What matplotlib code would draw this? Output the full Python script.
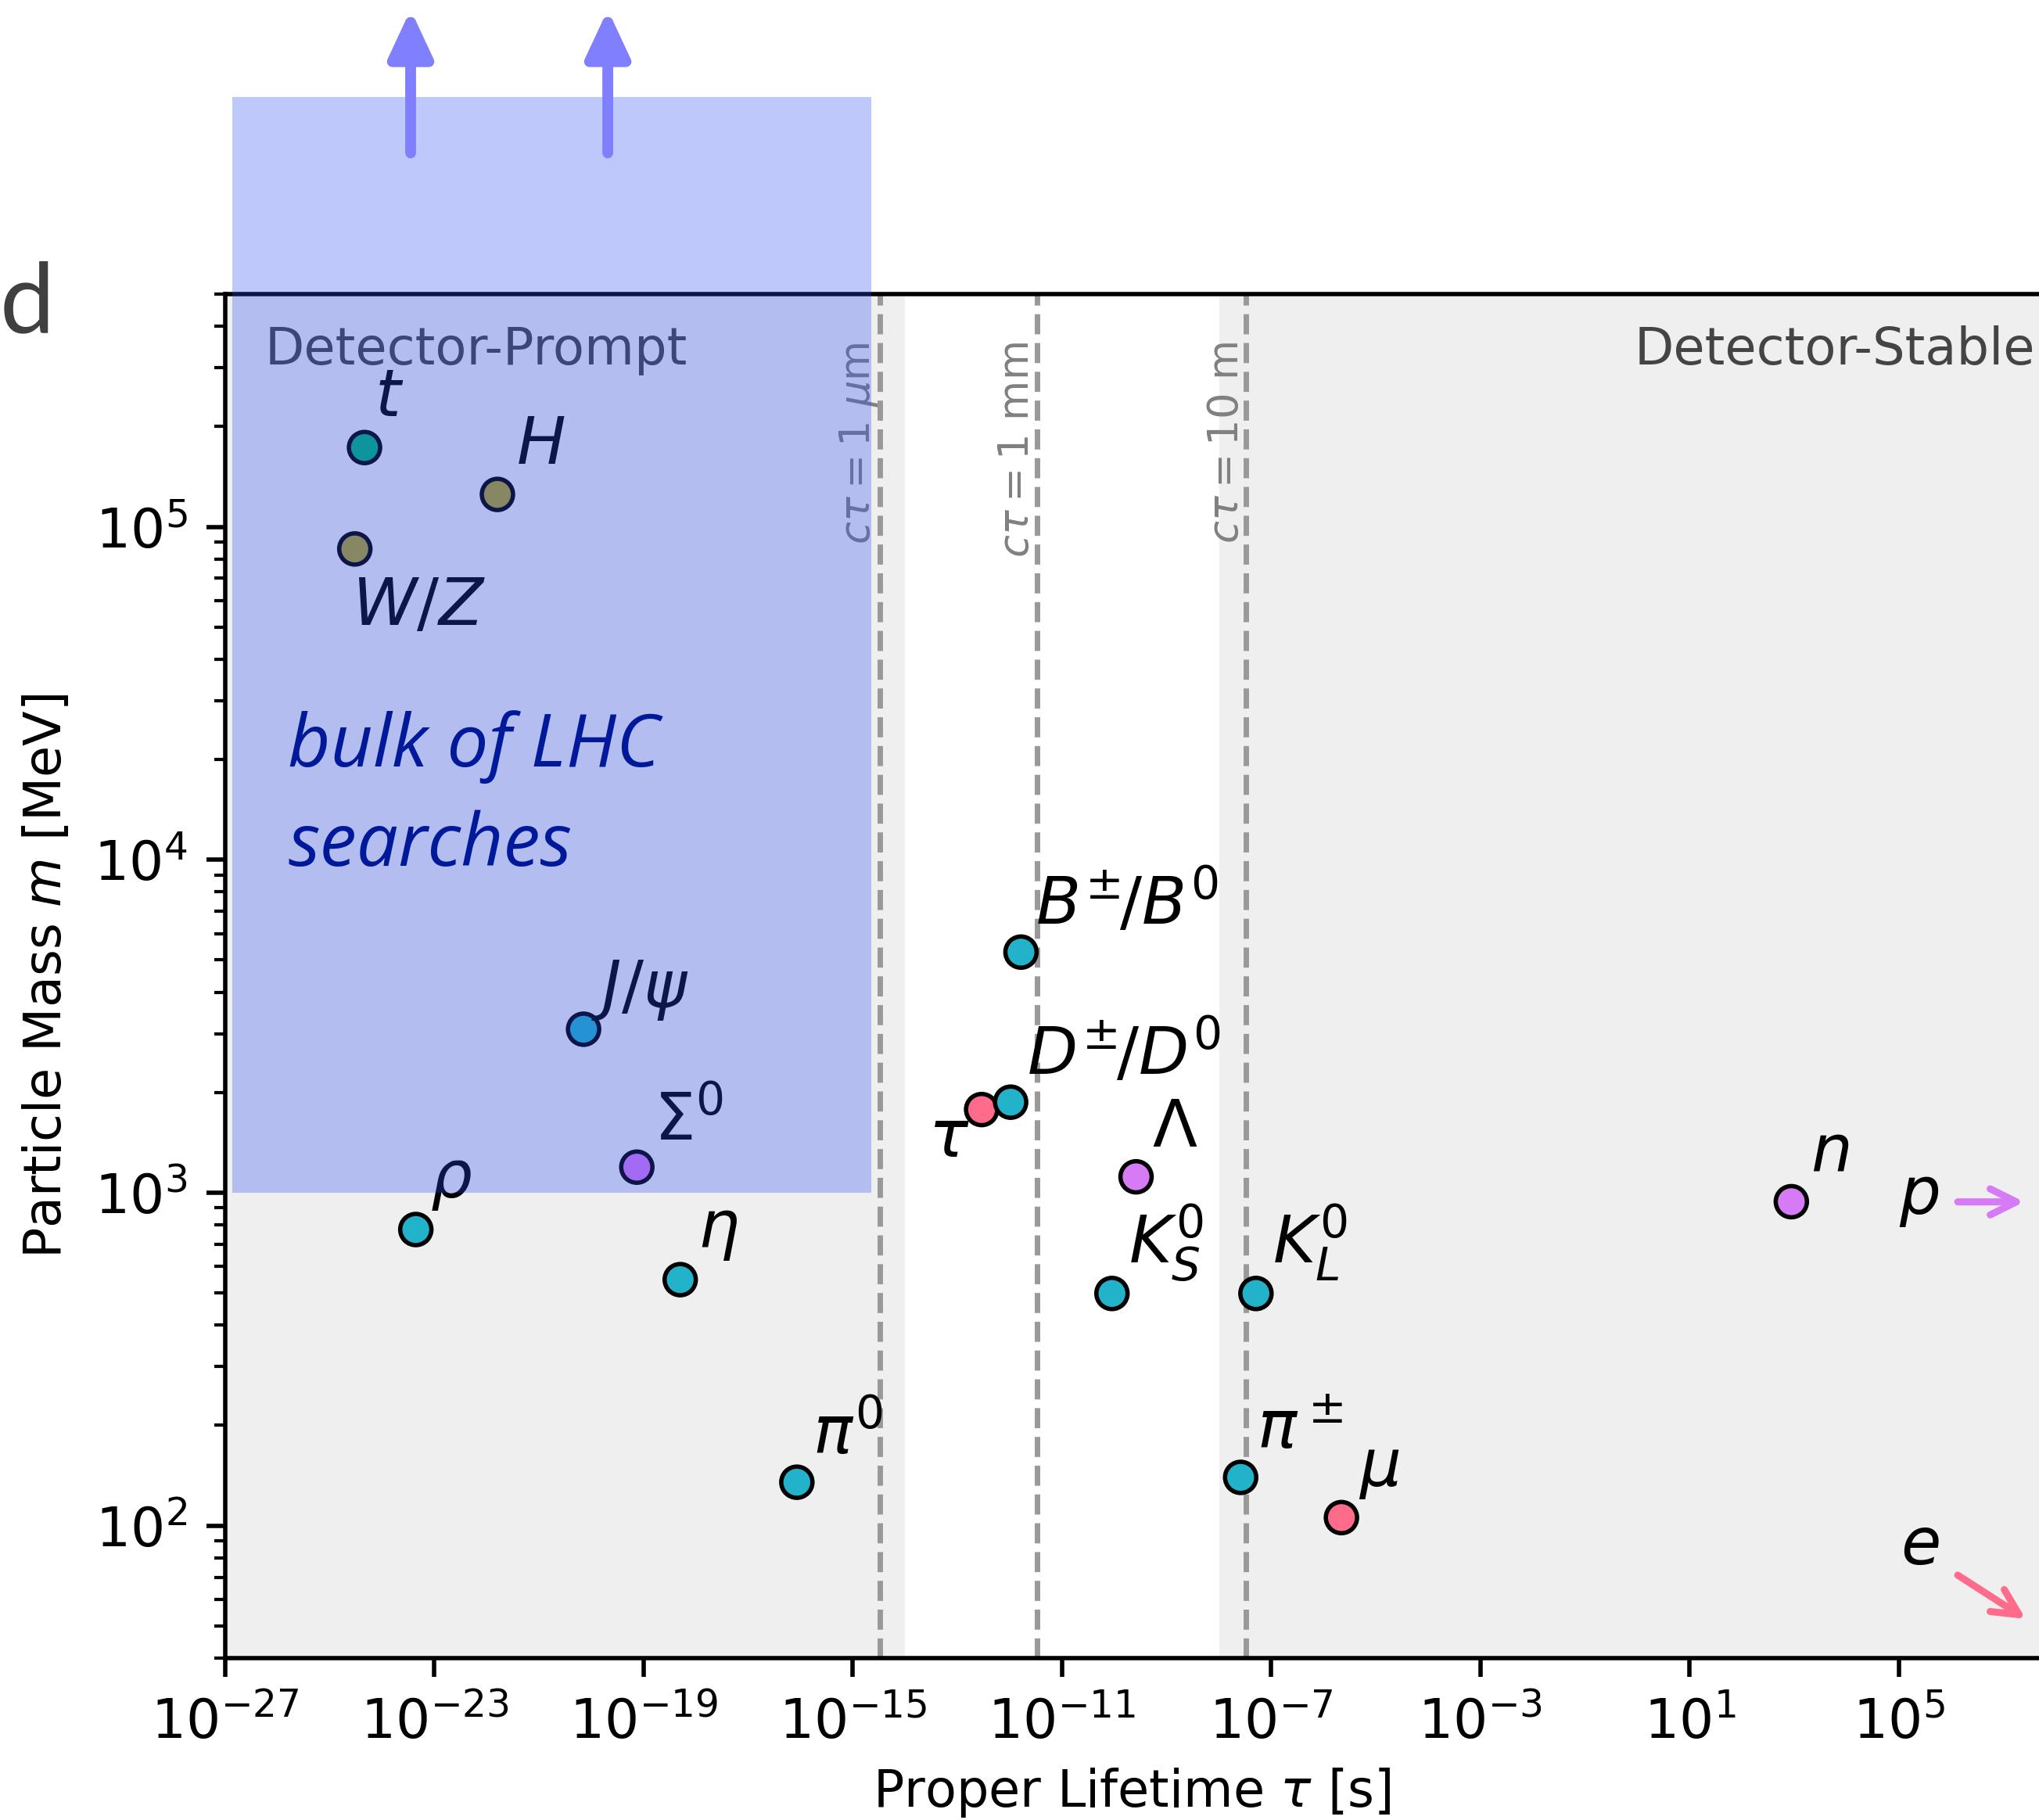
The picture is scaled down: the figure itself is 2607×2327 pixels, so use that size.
import numpy as np
import matplotlib
matplotlib.use('Agg')
import matplotlib.pyplot as plt
from matplotlib.patches import Rectangle
from matplotlib.ticker import NullLocator

# particle table: proper lifetime [s], mass [MeV]
particles = ['t', 'H', 'W/Z', 'J/psi', 'Sigma0', 'rho', 'eta', 'pi0', 'tau',
             'D', 'B', 'Lambda', 'K_S', 'K_L', 'pi+-', 'mu', 'n']
lifetimes = [4.6e-25, 1.6e-22, 3.0e-25, 7.1e-21, 7.4e-20, 4.4e-24, 5.0e-19, 8.5e-17, 2.9e-13,
             1.04e-12, 1.64e-12, 2.6e-10, 9.0e-11, 5.1e-8, 2.6e-8, 2.2e-6, 880.0]
masses = [173000, 125100, 85800, 3097, 1193, 775, 548, 135, 1777,
          1870, 5279, 1116, 498, 498, 139.6, 105.7, 939.6]
kinds = ['quark', 'boson', 'boson', 'meson', 'baryon', 'meson', 'meson', 'meson', 'lepton',
         'meson', 'meson', 'baryon', 'meson', 'meson', 'meson', 'lepton', 'baryon']
labels = [r'$t$', r'$H$', r'$W/Z$', r'$J/\psi$', r'$\Sigma^0$', r'$\rho$', r'$\eta$', r'$\pi^0$',
          r'$\tau$', r'$D^{\pm}\hspace{-0.08}/D^0$', r'$B^{\pm}\hspace{-0.08}/B^0$', r'$\Lambda$',
          r'$K_S^0$', r'$K_L^0$', r'$\pi^\pm$', r'$\mu$', r'$n$']

# stable particles shown only by arrows
proton_mass = 938.3

# decay lengths c*tau [m] for the dashed guide lines
ctau_lengths = [1e-6, 1e-3, 10.0]
ctau_labels = [r'$c\tau = 1\ \mu$m', r'$c\tau = 1$ mm', r'$c\tau = 10$ m']
c_light = 2.998e8

# detector regions (lifetime edges)
prompt_edge = 1e-14
stable_edge = 1e-8

kind_colors = {'quark': '#00b478', 'boson': '#afa228', 'meson': '#22b2c9',
               'baryon': '#d67af5', 'lepton': '#ff6b8a'}

# label offsets in points (dx, dy, ha)
label_offsets = {
    't': (1.9, 5.8, 'left'), 'H': (3.4, 5.6, 'left'), 'W/Z': (-0.5, -14.0, 'left'),
    'J/psi': (1.4, 4.0, 'left'), 'Sigma0': (3.1, 5.0, 'left'), 'rho': (2.6, 5.9, 'left'),
    'eta': (3.2, 5.9, 'left'), 'pi0': (2.9, 5.2, 'left'), 'tau': (-2.3, -8.7, 'right'),
    'D': (3.0, 5.0, 'left'), 'B': (2.7, 5.1, 'left'), 'Lambda': (2.9, 5.5, 'left'),
    'K_S': (3.0, 5.6, 'left'), 'K_L': (3.1, 5.6, 'left'), 'pi+-': (3.0, 5.3, 'left'),
    'mu': (3.2, 5.8, 'left'), 'n': (3.5, 5.8, 'left'),
}

W, H = 2607, 2327
fig = plt.figure(figsize=(W / 500, H / 500), dpi=500)
ax = fig.add_axes([288 / W, (H - 2120) / H, (W - 288) / W, (2120 - 376) / H])
ax.set_xscale('log')
ax.set_yscale('log')
ax.set_xlim(1e-27, 10 ** 7.68)
ax.set_ylim(40, 5e5)

ax.axvspan(1e-30, prompt_edge, color='#efefef', lw=0, zorder=0)
ax.axvspan(stable_edge, 1e12, color='#efefef', lw=0, zorder=0)

for L, lab in zip(ctau_lengths, ctau_labels):
    x = L / c_light
    ax.axvline(x, color='#999999', ls='--', lw=1.0, zorder=1)
    ax.text(x, 0.965, lab, transform=ax.get_xaxis_transform(), rotation=90,
            ha='right', va='top', fontsize=7.6, color='gray', zorder=2)

ax.text(0.022, 0.977, 'Detector-Prompt', transform=ax.transAxes, ha='left', va='top',
        fontsize=9.45, color='#444444', zorder=3)
ax.text(0.998, 0.977, 'Detector-Stable', transform=ax.transAxes, ha='right', va='top',
        fontsize=9.45, color='#444444', zorder=3)

ax.scatter(lifetimes, masses, c=[kind_colors[k] for k in kinds], s=33,
           edgecolors='k', linewidths=0.8, zorder=3)
for name, lab, x, y in zip(particles, labels, lifetimes, masses):
    dx, dy, ha = label_offsets[name]
    ax.annotate(lab, (x, y), xytext=(dx, dy), textcoords='offset points',
                ha=ha, va='baseline', fontsize=12, zorder=3)

# p and e leave the plot
ax.text(0.9228, 0.3257, r'$p$', transform=ax.transAxes, ha='left', va='baseline', fontsize=12)
ax.annotate('', xy=(0.9918, proton_mass), xytext=(0.9552, proton_mass),
            xycoords=('axes fraction', 'data'), textcoords=('axes fraction', 'data'),
            arrowprops=dict(arrowstyle='->', color=kind_colors['baryon'], lw=1.3,
                            shrinkA=0, shrinkB=0, mutation_scale=12))
ax.text(0.9237, 0.0688, r'$e$', transform=ax.transAxes, ha='left', va='baseline', fontsize=12)
ax.annotate('', xy=(0.9927, 0.0287), xytext=(0.9552, 0.0608),
            xycoords='axes fraction', textcoords='axes fraction',
            arrowprops=dict(arrowstyle='->', color=kind_colors['lepton'], lw=1.3,
                            shrinkA=0, shrinkB=0, mutation_scale=12))

# bulk of LHC searches box
x0, x1 = 10 ** -26.87, 10 ** -14.64
box = Rectangle((x0, 1e3), x1 - x0, 1.95e6 - 1e3, facecolor=(45 / 255, 75 / 255, 241 / 255),
                alpha=0.3, lw=0, zorder=5, clip_on=False)
ax.add_patch(box)
for xa in [0.1022, 0.2109]:
    ax.annotate('', xy=(xa, 1.2085), xytext=(xa, 1.1035), xycoords='axes fraction',
                textcoords='axes fraction', annotation_clip=False, zorder=6,
                arrowprops=dict(arrowstyle='-|>, head_length=0.6, head_width=0.28',
                                color='#8080ff', lw=2.0, shrinkA=0, shrinkB=0,
                                mutation_scale=12))
ax.text(0.0345, 0.6537, 'bulk of LHC', transform=ax.transAxes, family='Open Sans',
        style='italic', fontsize=13.6, color='#00199a', zorder=6)
ax.text(0.0345, 0.5808, 'searches', transform=ax.transAxes, family='Open Sans',
        style='italic', fontsize=13.6, color='#00199a', zorder=6)

ax.set_xticks([10.0 ** k for k in range(-27, 7, 4)])
ax.xaxis.set_minor_locator(NullLocator())
ax.tick_params(labelsize=10)
ax.spines['right'].set_visible(False)
ax.set_xlabel(r'Proper Lifetime $\tau$ [s]', fontsize=9.4, labelpad=3)
ax.set_ylabel(r'Particle Mass $m$ [MeV]', fontsize=9.4)

fig.text(0.0, 0.8175, 'd', family='Lato', fontsize=18, color='#404040')

fig.savefig('out.png', dpi=500)
